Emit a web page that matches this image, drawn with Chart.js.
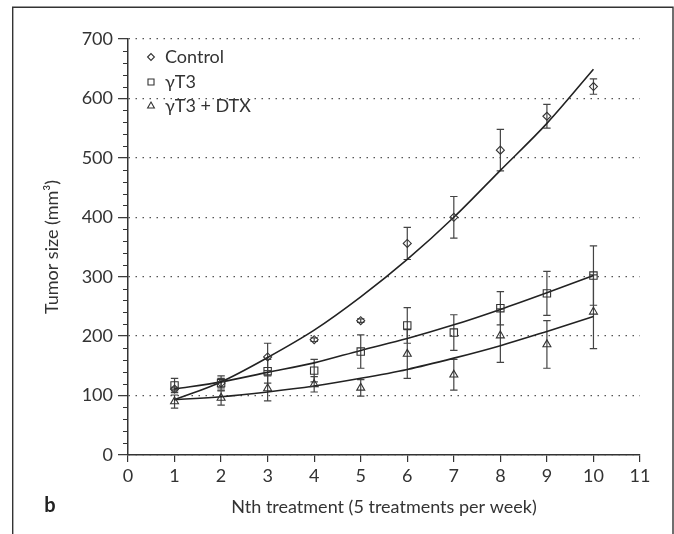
<!DOCTYPE html>
<html>
<head>
<meta charset="utf-8">
<script src="https://cdn.jsdelivr.net/npm/chart.js@4.4.1/dist/chart.umd.min.js"></script>
<style>
  html, body { margin: 0; padding: 0; background: #fff; }
  #wrap { position: relative; width: 674px; height: 534px; }
</style>
</head>
<body>
<div id="wrap"><canvas id="myChart" width="674" height="534"></canvas></div>
<script>
const treatments = [1, 2, 3, 4, 5, 6, 7, 8, 9, 10];
const xTicks = [0, 1, 2, 3, 4, 5, 6, 7, 8, 9, 10, 11];
const yTicks = [0, 100, 200, 300, 400, 500, 600, 700];

const controlMean = [111, 121, 165, 194, 226, 356, 400, 513, 570, 620];
const controlErr  = [3, 8, 23, 3, 3, 27, 35, 35, 20, 13];
const gt3Mean     = [117, 121, 141, 142, 174, 218, 206, 247, 272, 302];
const gt3Err      = [12, 12, 20, 19, 28, 30, 30, 28, 37, 50];
const dtxMean     = [90, 96, 112, 119, 113, 170, 135, 201, 186, 241];
const dtxErr      = [11, 12, 21, 13, 14, 41, 26, 45, 40, 62];

// fitted trend lines at each treatment
const controlFit = [93, 123, 164, 210, 266, 329, 400, 479, 558, 649];
const gt3Fit     = [111, 123, 139, 155, 176, 196, 219, 245, 273, 302];
const dtxFit     = [93, 98, 106, 116, 129, 144, 163, 184, 208, 233];

const seriesNames = ["Control", "\u03B3T3", "\u03B3T3 + DTX"];
const ink = "#333";
const fontFam = "Lato, 'Open Sans', sans-serif";

const pts = (ys) => treatments.map((x, i) => ({ x: x, y: ys[i] }));

function markerSet(label, ys, errs, style, radius) {
  return {
    label: label,
    data: pts(ys),
    errs: errs,
    showLine: false,
    pointStyle: style,
    pointRadius: radius,
    pointHoverRadius: radius,
    pointBorderWidth: 1.1,
    pointBorderColor: ink,
    pointBackgroundColor: "rgba(0,0,0,0)",
    borderColor: ink
  };
}
function fitSet(ys) {
  return {
    label: "",
    data: pts(ys),
    isFit: true,
    borderColor: "#222",
    borderWidth: 1.6,
    pointRadius: 0,
    cubicInterpolationMode: "monotone",
    fill: false
  };
}

const extras = {
  id: "extras",
  beforeDatasetsDraw(chart) {
    const ctx = chart.ctx, xs = chart.scales.x, ys = chart.scales.y;
    ctx.save();
    ctx.strokeStyle = "#444";
    ctx.lineWidth = 1.2;
    chart.data.datasets.forEach((ds) => {
      if (!ds.errs) return;
      ds.data.forEach((p, i) => {
        const e = ds.errs[i];
        const px = xs.getPixelForValue(p.x);
        const top = ys.getPixelForValue(p.y + e);
        const bot = ys.getPixelForValue(p.y - e);
        ctx.beginPath();
        ctx.moveTo(px, top); ctx.lineTo(px, bot);
        ctx.moveTo(px - 3.7, top); ctx.lineTo(px + 3.7, top);
        ctx.moveTo(px - 3.7, bot); ctx.lineTo(px + 3.7, bot);
        ctx.stroke();
      });
    });
    ctx.restore();
  },
  afterDraw(chart) {
    const ctx = chart.ctx, ys = chart.scales.y, area = chart.chartArea;
    ctx.save();
    // minor ticks on the y axis
    ctx.strokeStyle = ink;
    ctx.lineWidth = 1.2;
    ctx.beginPath();
    for (let v = 20; v < 700; v += 20) {
      if (v % 100 === 0) continue;
      const py = Math.round(ys.getPixelForValue(v)) + 0.5;
      ctx.moveTo(area.left - 5, py); ctx.lineTo(area.left, py);
    }
    ctx.stroke();

    // legend inside the plot
    const styles = [["rectRot", 4], ["rect", 5], ["triangle", 4.6]];
    const rowsY = [57, 82, 106];
    ctx.textBaseline = "middle";
    ctx.textAlign = "left";
    seriesNames.forEach((name, i) => {
      ctx.strokeStyle = ink;
      ctx.fillStyle = "rgba(0,0,0,0)";
      ctx.lineWidth = 1.1;
      Chart.helpers.drawPoint(ctx, { pointStyle: styles[i][0], radius: styles[i][1] * 0.85, borderWidth: 1.1 }, 151, rowsY[i]);
      ctx.font = "18px " + fontFam;
      ctx.fillStyle = ink;
      ctx.fillText(name, 165, rowsY[i]);
    });

    // panel frame and letter
    ctx.strokeStyle = ink;
    ctx.lineWidth = 1.4;
    ctx.beginPath();
    ctx.moveTo(12.7, 540); ctx.lineTo(12.7, 7.3); ctx.lineTo(673, 7.3); ctx.lineTo(673, 540);
    ctx.stroke();
    ctx.font = "bold 20px " + fontFam;
    ctx.textAlign = "center";
    ctx.fillStyle = "#222";
    ctx.fillText("b", 50, 506);
    ctx.restore();
  }
};

new Chart("myChart", {
  type: "line",
  data: {
    datasets: [
      markerSet(seriesNames[0], controlMean, controlErr, "rectRot", 4),
      markerSet(seriesNames[1], gt3Mean, gt3Err, "rect", 5.2),
      markerSet(seriesNames[2], dtxMean, dtxErr, "triangle", 4.6),
      fitSet(controlFit),
      fitSet(gt3Fit),
      fitSet(dtxFit)
    ]
  },
  options: {
    responsive: false,
    animation: false,
    layout: { padding: { left: 0, right: 34, top: 39, bottom: 0 } },
    plugins: {
      legend: { display: false },
      tooltip: { enabled: false }
    },
    scales: {
      x: {
        type: "linear",
        min: xTicks[0],
        max: xTicks[xTicks.length - 1],
        afterBuildTicks: (s) => { s.ticks = xTicks.map(v => ({ value: v })); },
        afterFit: (s) => { s.height = 79; },
        ticks: { color: ink, font: { family: fontFam, size: 18 }, padding: 3 },
        grid: { drawOnChartArea: false, tickLength: 7, color: ink, lineWidth: 1.2 },
        border: { color: ink, width: 1.5 },
        title: {
          display: true,
          text: "Nth treatment (5 treatments per week)",
          color: ink,
          font: { family: fontFam, size: 18 },
          padding: { top: 0, bottom: 16 }
        }
      },
      y: {
        min: yTicks[0],
        max: yTicks[yTicks.length - 1],
        afterBuildTicks: (s) => { s.ticks = yTicks.map(v => ({ value: v })); },
        afterFit: (s) => { s.width = 128; },
        ticks: { color: ink, font: { family: fontFam, size: 18 }, padding: 5 },
        grid: { color: "#555", lineWidth: 1.3, tickLength: 10, tickColor: ink, tickWidth: 1.2 },
        border: { color: ink, width: 1.5, dash: [1.5, 5.5] },
        title: {
          display: true,
          text: "Tumor size (mm\u00B3)",
          color: ink,
          font: { family: fontFam, size: 18 },
          padding: { top: 41, bottom: 0 }
        }
      }
    }
  },
  plugins: [extras]
});
</script>
</body>
</html>
